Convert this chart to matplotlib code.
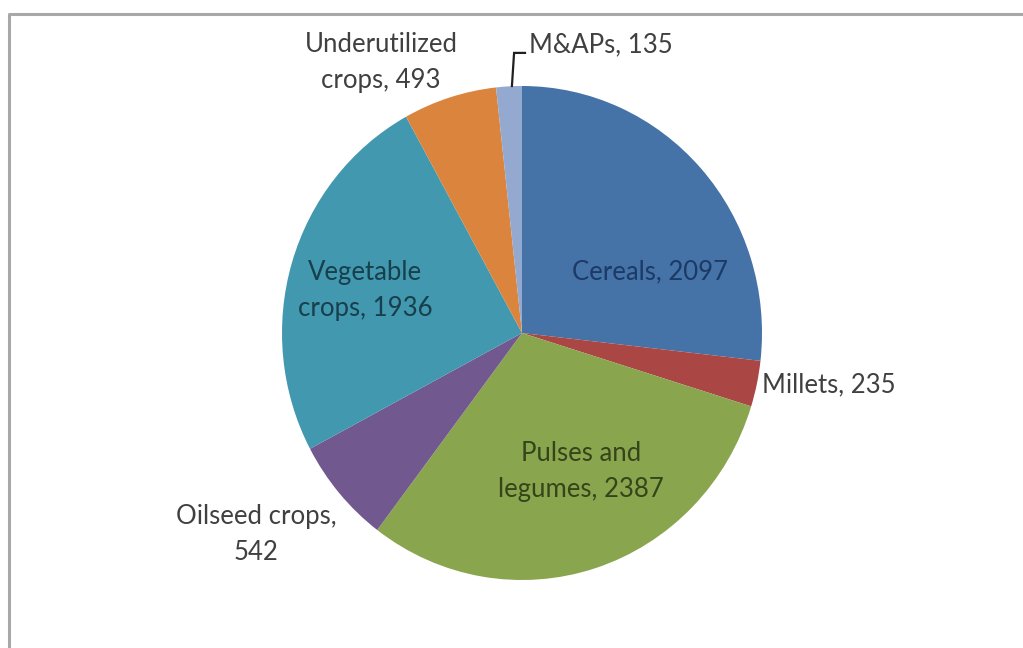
import matplotlib
matplotlib.use("Agg")
import matplotlib.pyplot as plt
from matplotlib.lines import Line2D

# Crop groups and their counts
categories = ["Cereals", "Millets", "Pulses and\nlegumes", "Oilseed crops,\n",
              "Vegetable\ncrops", "Underutilized\ncrops", "M&APs"]
values = [2097, 235, 2387, 542, 1936, 493, 135]

colors = ["#4572a7", "#aa4643", "#89a54e", "#71588f", "#4198af", "#db843d", "#93a9cf"]

# Label placement (data coords), alignment and colour per slice
label_pos = [(0.533, 0.247), (1.0, -0.211), (0.246, -0.561), (-1.108, -0.814),
             (-0.654, 0.172), (-0.5875, 1.095), (0.03, 1.166)]
label_ha = ["center", "left", "center", "center", "center", "center", "left"]
label_col = ["#1c3a66", "#404040", "#34451a", "#404040", "#183f4c", "#404040", "#404040"]

plt.rcParams["font.family"] = ["Lato", "DejaVu Sans"]

W, H = 1023, 648
fig = plt.figure(figsize=(W / 100, H / 100), dpi=100)
fig.patch.set_facecolor("white")

cx, cy, rx, ry = 522, 333, 240, 247
ax = fig.add_axes([(cx - rx) / W, (H - cy - ry) / H, 2 * rx / W, 2 * ry / H])
ax.pie(values, colors=colors, startangle=90, counterclock=False,
       wedgeprops=dict(linewidth=0))
ax.set_aspect("auto")
ax.set_xlim(-1, 1)
ax.set_ylim(-1, 1)
ax.axis("off")

for name, val, (x, y), ha, c in zip(categories, values, label_pos, label_ha, label_col):
    if name.endswith(",\n"):
        text = f"{name}{val}"
    else:
        text = f"{name}, {val}"
    ax.text(x, y, text, ha=ha, va="center", fontsize=18.5, color=c,
            linespacing=1.55, clip_on=False)

# Leader line for the small M&APs slice
ax.plot([-0.042, -0.033, 0.0125], [1.0, 1.134, 1.134], color="#202020", lw=1.6,
        clip_on=False, solid_joinstyle="miter")

# Chart area border (top and left edges visible)
bx, by = 9 / W, 1 - 13.5 / H
fig.add_artist(Line2D([bx, bx, 1.0], [0.0, by, by], transform=fig.transFigure,
                      color="#a8a8a8", lw=2.2))

fig.savefig("out.png", dpi=100, facecolor="white")
